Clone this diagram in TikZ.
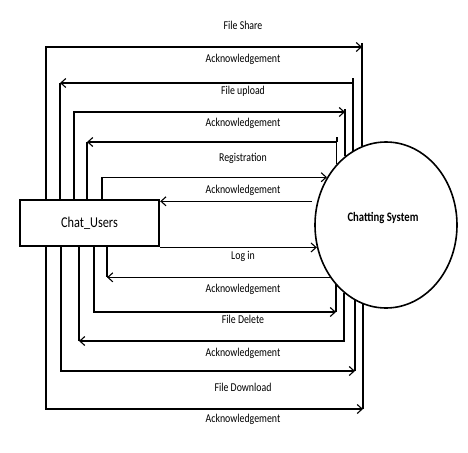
\documentclass[tikz,border=0pt]{standalone}
\usepackage{fontspec}
\setmainfont{Carlito}
\newfontfamily\dfdfont[FakeStretch=0.82]{Carlito}
\usetikzlibrary{arrows.meta, positioning, shapes.geometric}

\begin{document}
\begin{tikzpicture}[
    x=1pt, y=-1pt,
    entity/.style={draw, line width=2.4pt, minimum width=139pt, minimum height=46pt, inner sep=0pt, font=\dfdfont\fontsize{15}{18}\selectfont},
    process/.style={draw, ellipse, line width=1.6pt, minimum width=142pt, minimum height=166pt, inner sep=0pt, font=\dfdfont\bfseries\fontsize{13}{15}\selectfont},
    flow/.style={line width=1.2pt},
    heavy/.style={line width=1.6pt},
    arrow/.style={flow, -{Straight Barb[length=5pt, width=9pt, line width=1.1pt]}},
    flowtext/.style={anchor=base, inner sep=0pt, font=\dfdfont\fontsize{12}{14}\selectfont}
]
\useasboundingbox (0,0) rectangle (468,452);

\node[entity] (users) at (89.5,223) {Chat\_Users};
\node[process] (sys) at (386,225) {\raisebox{4pt}[0pt][0pt]{Chatting System}\hspace*{6pt}};

% flows above the entity
\draw[arrow] (users.north -| 46,0) |- (362,47);
\draw[flow] (362,43) -- (362,43 |- sys.107);
\draw[arrow] (sys.114) |- (60,83);
\draw[flow] (60,83) -- (users.north -| 60,0);
\draw[flow] (353,83) -- (353,78);
\draw[arrow] (users.north -| 74,0) |- (345,112);
\draw[flow] (345,109) -- (345,109 |- sys.121);
\draw[arrow, heavy] (sys.129) |- (87,142);
\draw[flow, heavy] (87,142) -- (users.north -| 87,0);
\draw[flow, heavy] (337,142) -- (337,137);
\draw[arrow] (users.north -| 102,0) |- (sys.141);
\draw[arrow, shorten <=5pt] (sys.161) -- (sys.161 -| users.east);

% flows below the entity
\draw[arrow] (sys.198.6 -| users.east) -- (sys.198.6);
\draw[arrow] (sys.223) -- (sys.223 -| 107,0);
\draw[flow] (users.south -| 107,0) -- (sys.223 -| 107,0);
\draw[arrow] (users.south -| 94,0) |- (336,312);
\draw[flow] (336,312) -- (336,312 |- sys.229.7);
\draw[arrow, heavy] (sys.238) |- (79,341);
\draw[flow, heavy] (79,341) -- (users.south -| 79,0);
\draw[arrow] (users.south -| 61,0) |- (355,371);
\draw[flow, heavy] (355,371) -- (355,371 |- sys.247.5);
\draw[arrow] (users.south -| 46,0) |- (363,409);
\draw[flow] (363,409) -- (363,409 |- sys.254);

% flow labels
\node[flowtext] (tshare) at (243,30) {File Share};
\node[flowtext] (tack1) at (243,63) {Acknowledgement};
\node[flowtext] (tupload) at (243,94) {File upload};
\node[flowtext] (tack2) at (243,126) {Acknowledgement};
\node[flowtext] (treg) at (243,161) {Registration};
\node[flowtext] (tack3) at (243,193) {Acknowledgement};
\node[flowtext] (tlogin) at (243,259) {Log in};
\node[flowtext] (tack4) at (243,292) {Acknowledgement};
\node[flowtext] (tdelete) at (243,323) {File Delete};
\node[flowtext] (tack5) at (243,356) {Acknowledgement};
\node[flowtext] (tdownload) at (243,391) {File Download};
\node[flowtext] (tack6) at (243,422) {Acknowledgement};
\end{tikzpicture}
\end{document}
